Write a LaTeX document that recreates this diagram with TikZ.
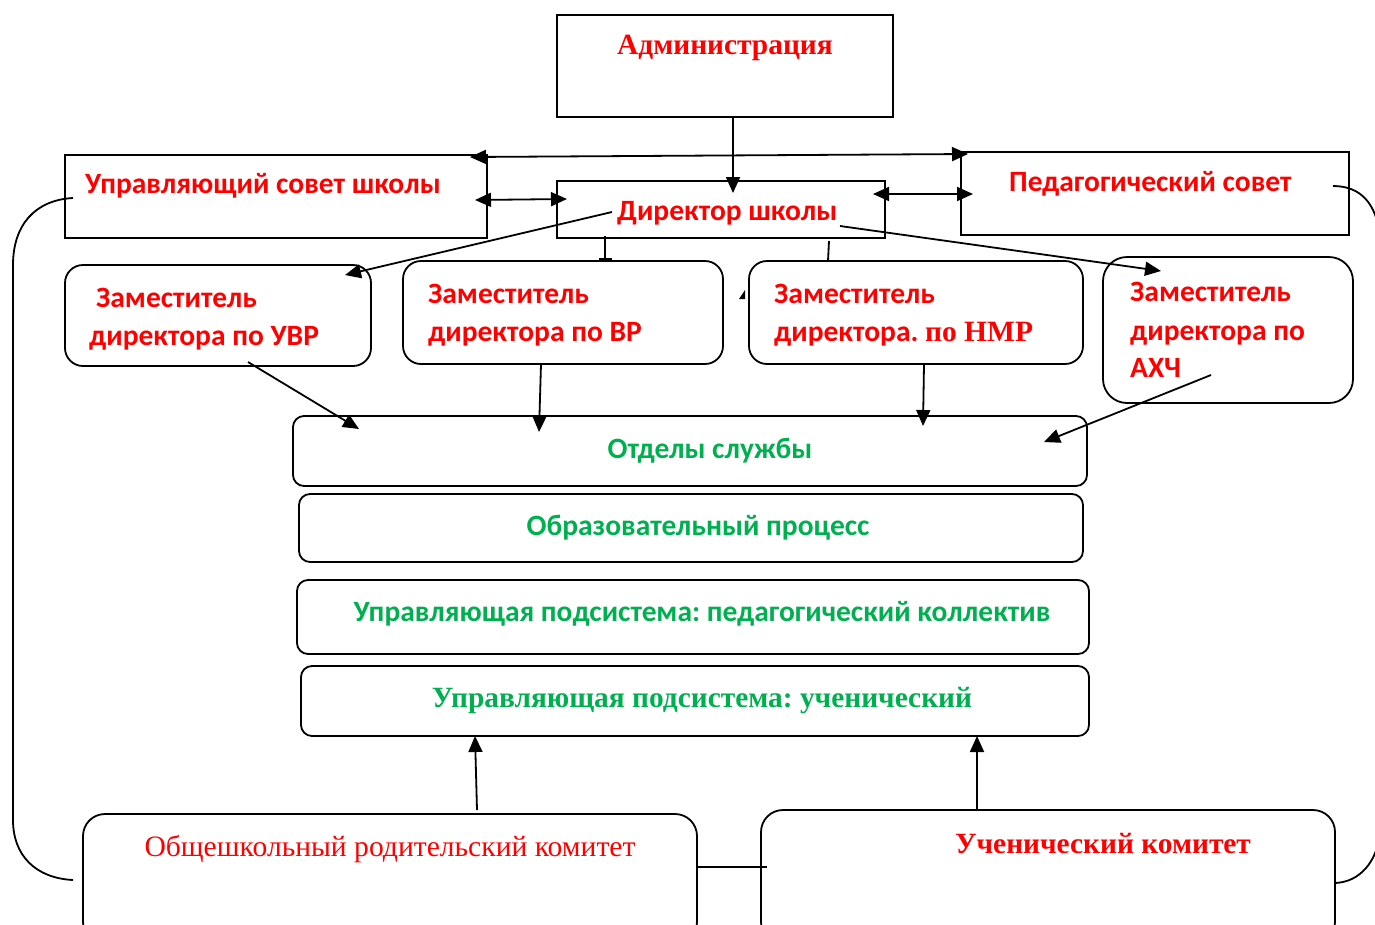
\documentclass[tikz,border=0pt]{standalone}
\usepackage{fontspec}
\setmainfont{Liberation Serif}
\newfontfamily\calib{Carlito}
\usetikzlibrary{arrows.meta,calc}
\definecolor{rd}{RGB}{255,0,0}
\definecolor{gr}{RGB}{0,176,80}
\frenchspacing
\begin{document}
\begin{tikzpicture}[x=1pt,y=-1pt,
  box/.style={draw, line width=1.8pt, inner sep=0pt},
  rbox/.style={box, rounded corners=18pt},
  sbox/.style={box, rounded corners=11pt},
  sans/.style={font=\calib\bfseries\fontsize{29.5}{35}\selectfont, text=rd, inner sep=0pt, anchor=base west},
  gsans/.style={font=\calib\bfseries\fontsize{29.5}{35}\selectfont, text=gr, inner sep=0pt, anchor=base},
  serb/.style={font=\bfseries\fontsize{29.4}{35}\selectfont, inner sep=0pt, anchor=base},
  ser/.style={font=\fontsize{29.6}{35}\selectfont, text=rd, inner sep=0pt, anchor=base},
  conn/.style={line width=1.8pt},
  arr/.style={conn, -{Triangle[length=16pt,width=14pt]}},
  darr/.style={conn, {Triangle[length=16pt,width=14pt]}-{Triangle[length=16pt,width=14pt]}},
]
\clip (0,0) rectangle (1375,924);
\fill[white] (0,0) rectangle (1375,924);

% boxes
\node[box, minimum width=336pt, minimum height=102pt] (adm) at (725,66) {};
\node[box, minimum width=422pt, minimum height=83pt] (usov) at (276,196.5) {};
\node[box, minimum width=328pt, minimum height=57pt] (dir) at (721,209.5) {};
\node[box, minimum width=388pt, minimum height=83pt] (psov) at (1155,193.5) {};
\node[rbox, minimum width=306pt, minimum height=101pt] (uvr) at (218,315.5) {};
\node[rbox, minimum width=320pt, minimum height=103pt] (vr) at (563,312.5) {};
\node[rbox, minimum width=334pt, minimum height=103pt] (nmr) at (916,312.5) {};
\node[rbox, rounded corners=24pt, minimum width=250pt, minimum height=146pt] (ahc) at (1228,330) {};
\node[sbox, minimum width=794pt, minimum height=70pt] (otd) at (690,451) {};
\node[sbox, minimum width=784pt, minimum height=68pt] (obr) at (691,528) {};
\node[sbox, minimum width=792pt, minimum height=74pt] (pedk) at (693,617) {};
\node[sbox, minimum width=788pt, minimum height=70pt] (uchs) at (695,701) {};
\node[rbox, rounded corners=22pt, minimum width=614pt, minimum height=130pt] (rod) at (390,879) {};
\node[rbox, rounded corners=22pt, minimum width=574pt, minimum height=134pt] (ukom) at (1048,877) {};

% texts
\node[serb, text=rd] (tadm) at (725,54) {Администрация};
\node[sans] (tusov) at (85,193) {Управляющий совет школы};
\node[sans] (tdir) at (617,220) {Директор школы};
\node[sans] (tpsov) at (1009,191) {Педагогический совет};
\node[sans] (tuvr1) at (96,307) {Заместитель};
\node[sans] (tuvr2) at (89,345) {директора по УВР};
\node[sans] (tvr1) at (428,303) {Заместитель};
\node[sans] (tvr2) at (428,341) {директора по ВР};
\node[sans] (tnmr1) at (774,303) {Заместитель};
\node[sans] (tnmr2) at (774,341) {директора. {\rmfamily по НМР}};
\node[sans] (tahc1) at (1130,301) {Заместитель};
\node[sans] (tahc2) at (1130,340) {директора по};
\node[sans] (tahc3) at (1130,377) {АХЧ};
\node[gsans] (totd) at (710,458) {Отделы службы};
\node[gsans] (tobr) at (698,535) {Образовательный процесс};
\node[gsans] (tpedk) at (702,621) {Управляющая подсистема: педагогический коллектив};
\node[serb, text=gr] (tuchs) at (702,707) {Управляющая подсистема: ученический};
\node[ser] (trod) at (390,856) {Общешкольный родительский комитет};
\node[serb, text=rd] (tukom) at (1103,853) {Ученический комитет};

% connector points
\coordinate (a1) at (733,117);
\coordinate (a2) at (733,193);
\coordinate (l1) at (470,157);
\coordinate (l2) at (968,154);
\coordinate (u1) at (475,200);
\coordinate (u2) at (567,199);
\coordinate (p1) at (873,194);
\coordinate (p2) at (973,194);
\coordinate (d1) at (612,212);
\coordinate (d2) at (345,275);
\coordinate (d3) at (840,226);
\coordinate (d4) at (1161,271);
\coordinate (t1) at (605,236);
\coordinate (t2) at (605,260);
\coordinate (t3) at (829,241);
\coordinate (t4) at (828,261);
\coordinate (z1) at (248,362);
\coordinate (z2) at (359,429);
\coordinate (v1) at (541,364);
\coordinate (v2) at (539,432);
\coordinate (n1) at (924,364);
\coordinate (n2) at (923,426);
\coordinate (h1) at (1211,375);
\coordinate (h2) at (1044,442);
\coordinate (r1) at (477,810);
\coordinate (r2) at (475,736);
\coordinate (k1) at (977,810);
\coordinate (k2) at (977,736);
\coordinate (m1) at (697,867);
\coordinate (m2) at (767,867);

\draw[arr] (a1) -- (a2);
\draw[darr] (l1) -- (l2);
\draw[darr] (u1) -- (u2);
\draw[darr] (p1) -- (p2);
\draw[arr] (d1) -- (d2);
\draw[arr] (d3) -- (d4);
\draw[conn, -{Bar[width=13pt]}] (t1) -- (t2);
\draw[conn] (t3) -- (t4);
\fill (739,299) -- (745,290) -- (745,299) -- cycle;
\draw[arr] (z1) -- (z2);
\draw[arr] (v1) -- (v2);
\draw[arr] (n1) -- (n2);
\draw[arr] (h1) -- (h2);
\draw[arr] (r1) -- (r2);
\draw[arr] (k1) -- (k2);
\draw[line width=2.6pt] (m1) -- (m2);

% side brackets
\draw[conn] (73,198) .. controls (35,200) and (13,225) .. (13,265) -- (13,820) .. controls (13,855) and (35,878) .. (73,880);
\draw[conn] (1333,186) .. controls (1362,186) and (1376,205) .. (1380,235);
\draw[conn] (1380,835) .. controls (1376,862) and (1360,882) .. (1335,883);
\end{tikzpicture}
\end{document}
